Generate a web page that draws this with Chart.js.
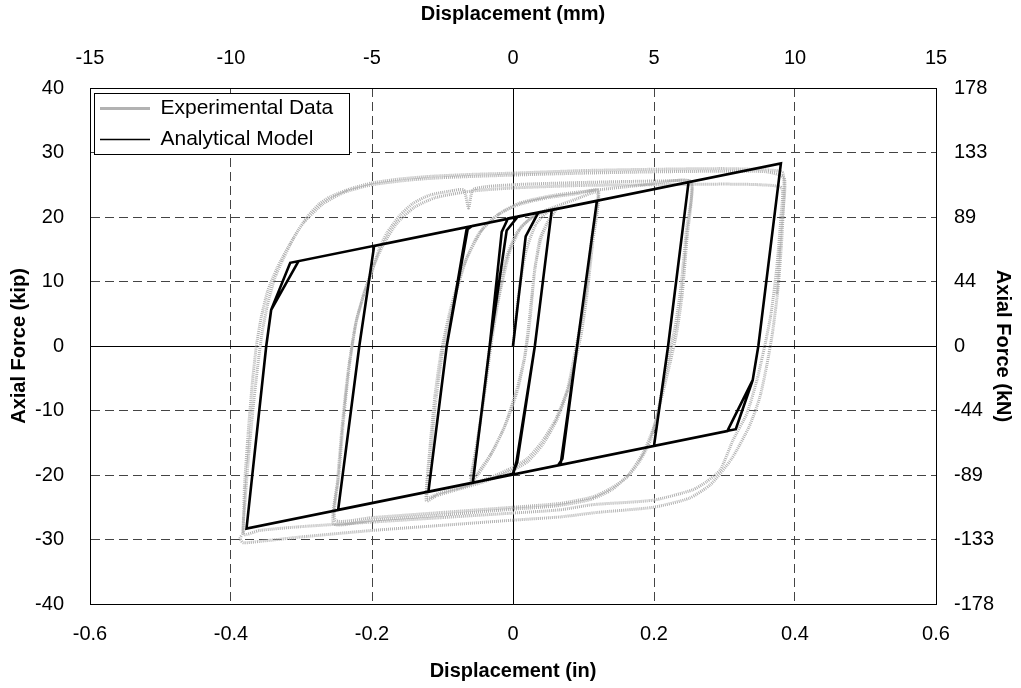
<!DOCTYPE html>
<html>
<head>
<meta charset="utf-8">
<script src="https://cdn.jsdelivr.net/npm/chart.js@4.4.0/dist/chart.umd.min.js"></script>
<style>
  html, body { margin: 0; padding: 0; background: #fff; }
</style>
</head>
<body>
<canvas id="chart" width="1021" height="688"></canvas>
<script>
// tick labels
const inTickLabels = ['-0.6', '-0.4', '-0.2', '0', '0.2', '0.4', '0.6'];
const mmTickLabels = ['-15', '-10', '-5', '0', '5', '10', '15'];
const kipTickLabels = ['-40', '-30', '-20', '-10', '0', '10', '20', '30', '40'];
const knTickLabels = ['-178', '-133', '-89', '-44', '0', '44', '89', '133', '178'];

// analytical model path [in, kip]
const modelPath = [
  [0, 0], [0.018, 17.0], [0.036, 20.7], [0.055, 21.1],
  [0.031, 0], [0.006, -18.0], [0.0, -19.8], [-0.057, -21.2],
  [-0.033, 0], [-0.016, 17.7], [-0.007, 19.8], [0.055, 21.1],
  [0.031, 0], [0.005, -17.9], [0.0, -19.8], [-0.057, -21.2],
  [-0.033, 0], [-0.009, 17.9], [0.007, 20.1], [0.119, 22.5],
  [0.091, 0], [0.07, -17.5], [0.064, -18.5], [-0.12, -22.6],
  [-0.094, 0], [-0.066, 18.0], [-0.058, 18.6], [0.119, 22.5],
  [0.091, 0], [0.068, -18.0], [0.064, -18.5], [-0.12, -22.6],
  [-0.094, 0], [-0.064, 18.3], [-0.058, 18.6], [0.249, 25.4],
  [0.220, 0], [0.2, -15.5], [-0.248, -25.4],
  [-0.218, 0], [-0.197, 15.5], [0.249, 25.4],
  [0.220, 0], [0.2, -15.5], [-0.248, -25.4],
  [-0.218, 0], [-0.197, 15.5], [0.38, 28.3],
  [0.348, 0], [0.340, -5.3], [0.316, -12.9], [-0.378, -28.3],
  [-0.350, 0], [-0.343, 5.6], [-0.316, 12.9], [0.38, 28.3],
  [0.348, 0], [0.340, -5.3], [0.304, -13.2], [-0.378, -28.3],
  [-0.350, 0], [-0.343, 5.6], [-0.304, 13.2]
];

const expLoop06 = [
  [0, 0], [0.008, 8], [0.018, 14.5], [0.032, 18.8], [0.047, 20.6], [0.06, 21.2],
  [0.048, 19], [0.038, 16.5], [0.03, 11], [0.022, 3], [0.016, -2], [0.006, -7],
  [-0.01, -12], [-0.03, -16.5], [-0.05, -19.7], [-0.06, -20.8],
  [-0.056, -18], [-0.051, -15], [-0.042, -8.5], [-0.033, 0], [-0.023, 6.5],
  [-0.01, 13.5], [0.005, 17.5], [0.025, 19.8], [0.045, 20.8], [0.061, 21.3],
  [0.05, 19.3], [0.04, 16.8], [0.031, 12], [0.024, 4], [0.017, -1.5], [0.006, -6.5],
  [-0.012, -12.5], [-0.032, -17], [-0.05, -20], [-0.059, -21],
  [-0.054, -17.5], [-0.048, -13], [-0.04, -7], [-0.03, 1], [-0.02, 7.5],
  [-0.005, 14.5], [0.012, 18.5], [0.035, 20.5], [0.06, 21.6], [0.09, 22.8], [0.12, 23.8]
];
const expLoop12 = [
  [0.112, 17], [0.104, 9], [0.095, 3], [0.088, -1], [0.077, -6.8], [0.06, -11.5],
  [0.04, -15], [0.02, -17.5], [0, -18.8], [-0.03, -20.3], [-0.07, -21.8],
  [-0.104, -22.8], [-0.122, -23.5],
  [-0.117, -17], [-0.11, -9], [-0.1, -1], [-0.085, 6.5], [-0.066, 13.5],
  [-0.042, 18.3], [-0.018, 20.6], [0.01, 22], [0.05, 23], [0.09, 23.6], [0.121, 24.1],
  [0.113, 16], [0.105, 8], [0.097, 2], [0.089, -2], [0.079, -6.5], [0.062, -11.5],
  [0.042, -15.3], [0.02, -18], [-0.005, -19.5], [-0.04, -21], [-0.08, -22.3],
  [-0.108, -23.2], [-0.123, -24],
  [-0.118, -16], [-0.111, -8], [-0.102, -1], [-0.088, 6], [-0.07, 12.5],
  [-0.048, 17.5], [-0.022, 20.3], [0.01, 22.2], [0.06, 23.4], [0.12, 24.2],
  [0.18, 24.9], [0.252, 25.5]
];
const expLoop25 = [
  [0.246, 18], [0.238, 9], [0.23, 3], [0.222, -1], [0.213, -6], [0.205, -10.5],
  [0.195, -14.6], [0.18, -17.8], [0.162, -20.3], [0.14, -22], [0.113, -23.4],
  [0.067, -24.4], [0, -25], [-0.1, -25.8], [-0.2, -26.6], [-0.252, -27],
  [-0.247, -20], [-0.24, -11], [-0.232, -3], [-0.222, 4], [-0.21, 8.5],
  [-0.2, 11.5], [-0.19, 15], [-0.179, 17.5], [-0.16, 20.3], [-0.142, 22.1],
  [-0.118, 23.4], [-0.09, 24], [-0.07, 24.2], [-0.063, 21.4], [-0.056, 24.3],
  [0, 25], [0.08, 25.3], [0.16, 25.5], [0.22, 25.6], [0.253, 25.4],
  [0.247, 17], [0.24, 8], [0.232, 2], [0.223, -2.5], [0.212, -7.5], [0.2, -12.5],
  [0.185, -16.5], [0.165, -19.8], [0.14, -22.3], [0.11, -23.8], [0.06, -24.8],
  [0, -25.3], [-0.1, -26.2], [-0.2, -27], [-0.254, -27.6],
  [-0.249, -21], [-0.242, -12], [-0.234, -4], [-0.224, 3], [-0.212, 8],
  [-0.2, 11.8], [-0.185, 15.5], [-0.165, 19], [-0.14, 21.5], [-0.11, 23],
  [-0.06, 24], [0, 24.5], [0.1, 24.9], [0.2, 25], [0.3, 25.1], [0.35, 25], [0.381, 24.5]
];
const expLoop38 = [
  [0.38, 20], [0.374, 12], [0.366, 5], [0.358, 0.5], [0.352, -2.5], [0.346, -5.3],
  [0.332, -10.4], [0.312, -14.6], [0.294, -19.2], [0.275, -21], [0.255, -22.3],
  [0.199, -23.9], [0.113, -24.6], [0.067, -25.4], [0, -25.9], [-0.1, -26.6],
  [-0.2, -27.3], [-0.3, -28], [-0.36, -28.6], [-0.382, -29.2],
  [-0.38, -24], [-0.375, -17], [-0.369, -10], [-0.362, -3], [-0.356, 2],
  [-0.348, 6.5], [-0.338, 10.5], [-0.326, 13.5], [-0.31, 17], [-0.292, 20],
  [-0.275, 22], [-0.26, 23.1], [-0.23, 24.4], [-0.199, 25.3], [-0.16, 25.9],
  [-0.118, 26.3], [-0.06, 26.6], [0, 26.8], [0.1, 27.2], [0.2, 27.4], [0.3, 27.5],
  [0.36, 27.3], [0.383, 26.8],
  [0.382, 18], [0.376, 9], [0.368, 2], [0.36, -3], [0.35, -8], [0.335, -12.5],
  [0.31, -17.5], [0.28, -21.5], [0.25, -23.6], [0.199, -25], [0.12, -25.8],
  [0.067, -26.5], [0, -27], [-0.1, -27.8], [-0.2, -28.6], [-0.3, -29.6],
  [-0.36, -30.3], [-0.383, -30.5], [-0.387, -29.8], [-0.383, -29],
  [-0.381, -22], [-0.376, -14], [-0.37, -6], [-0.364, 0], [-0.357, 4.5],
  [-0.348, 8.5], [-0.335, 12], [-0.318, 15.5], [-0.298, 19], [-0.27, 22],
  [-0.24, 23.8], [-0.2, 25], [-0.15, 25.7], [-0.1, 26.1], [0, 26.5], [0.1, 26.8],
  [0.2, 27], [0.3, 27.1], [0.36, 27], [0.385, 26], [0.38, 18], [0.374, 8]
];

const FONT = "Arial, 'Liberation Sans', sans-serif";
const tickFont = { family: FONT, size: 20 };
const titleFont = { family: FONT, size: 20, weight: 'bold' };

const toXY = pts => pts.map(p => ({ x: p[0], y: p[1] }));
const expPath = [].concat(expLoop06, expLoop12, expLoop25, expLoop38);

const isZero = c => c.tick && Math.abs(c.tick.value) < 1e-9;
const gridColor = c => isZero(c) ? '#000' : '#444';
const gridDash = c => isZero(c) ? [] : [9, 5];

// keeps the legend inside the plot area and gives it a white framed box
const legendFrame = {
  id: 'legendFrame',
  afterLayout(chart) {
    const lg = chart.legend;
    if (!lg) return;
    lg.top = chart.chartArea.top;
    lg.bottom = chart.chartArea.bottom;
    lg.left = chart.chartArea.left;
  },
  beforeDatasetsDraw(chart) {
    const lg = chart.legend;
    if (!lg || !lg.legendHitBoxes || !lg.legendHitBoxes.length) return;
    const hb = lg.legendHitBoxes;
    const l = Math.min(...hb.map(h => h.left)) - 6;
    const t = Math.min(...hb.map(h => h.top)) - 5;
    const r = Math.max(...hb.map(h => h.left + h.width)) + 16;
    const b = Math.max(...hb.map(h => h.top + h.height)) + 4;
    const ctx = chart.ctx;
    ctx.save();
    ctx.fillStyle = '#fff';
    ctx.fillRect(l, t, r - l, b - t);
    ctx.strokeStyle = '#000';
    ctx.lineWidth = 1;
    ctx.strokeRect(Math.round(l) + 0.5, Math.round(t) + 0.5, Math.round(r - l), Math.round(b - t));
    ctx.restore();
    lg.draw();
  }
};

new Chart(document.getElementById('chart'), {
  type: 'scatter',
  data: {
    datasets: [{
      label: 'Experimental Data',
      data: toXY(expPath),
      showLine: true,
      borderColor: '#b2b2b2',
      backgroundColor: 'rgba(0,0,0,0)',
      borderWidth: 3,
      borderDash: [1, 1],
      pointRadius: 0,
      tension: 0.2,
      order: 2
    }, {
      label: 'Analytical Model',
      data: toXY(modelPath),
      showLine: true,
      borderColor: '#000',
      backgroundColor: 'rgba(0,0,0,0)',
      borderWidth: 2.6,
      pointRadius: 0,
      tension: 0,
      order: 1
    }]
  },
  options: {
    responsive: false,
    animation: false,
    devicePixelRatio: 1,
    layout: { padding: 0 },
    plugins: {
      tooltip: { enabled: false },
      legend: {
        position: 'chartArea',
        align: 'start',
        labels: {
          boxWidth: 50,
          boxHeight: 0,
          padding: 10,
          color: '#000',
          font: { family: FONT, size: 21 },
          sort: (a, b) => a.datasetIndex - b.datasetIndex,
          generateLabels: chart => {
            const items = Chart.defaults.plugins.legend.labels.generateLabels(chart);
            items.forEach(it => { if (it.text === 'Analytical Model') it.lineWidth = 1.5; });
            return items;
          }
        }
      }
    },
    scales: {
      x: {
        type: 'linear', position: 'bottom', min: -0.6, max: 0.6,
        ticks: { stepSize: 0.2, padding: 18, color: '#000', font: tickFont, maxRotation: 0, autoSkip: false,
                 callback: (v, i) => inTickLabels[i] },
        grid: { color: gridColor, lineWidth: 1, drawTicks: false },
        border: { display: true, color: '#000', width: 1, dash: gridDash },
        title: { display: true, text: 'Displacement (in)', color: '#000', font: titleFont, padding: { top: 0, bottom: 5 } },
        afterFit: s => { s.height = 84; }
      },
      x2: {
        type: 'linear', position: 'top', min: -0.6, max: 0.6,
        ticks: { stepSize: 0.2, padding: 18, color: '#000', font: tickFont, maxRotation: 0, autoSkip: false,
                 callback: (v, i) => mmTickLabels[i] },
        grid: { display: false, drawTicks: false },
        border: { display: true, color: '#000', width: 1 },
        title: { display: true, text: 'Displacement (mm)', color: '#000', font: titleFont, padding: { top: 2, bottom: 0 } },
        afterFit: s => { s.height = 88; }
      },
      y: {
        type: 'linear', position: 'left', min: -40, max: 40,
        ticks: { stepSize: 10, padding: 26, color: '#000', font: tickFont, autoSkip: false,
                 callback: (v, i) => kipTickLabels[i] },
        grid: { color: gridColor, lineWidth: 1, drawTicks: false },
        border: { display: true, color: '#000', width: 1, dash: gridDash },
        title: { display: true, text: 'Axial Force (kip)', color: '#000', font: titleFont, padding: { top: 7, bottom: 0 } },
        afterFit: s => { s.width = 90; }
      },
      y2: {
        type: 'linear', position: 'right', min: -40, max: 40,
        ticks: { stepSize: 10, padding: 18, color: '#000', font: tickFont, autoSkip: false,
                 callback: (v, i) => knTickLabels[i] },
        grid: { display: false, drawTicks: false },
        border: { display: true, color: '#000', width: 1 },
        title: { display: true, text: 'Axial Force (kN)', color: '#000', font: titleFont, padding: { top: 6, bottom: 0 } },
        afterFit: s => { s.width = 85; }
      }
    }
  },
  plugins: [legendFrame]
});
</script>
</body>
</html>
